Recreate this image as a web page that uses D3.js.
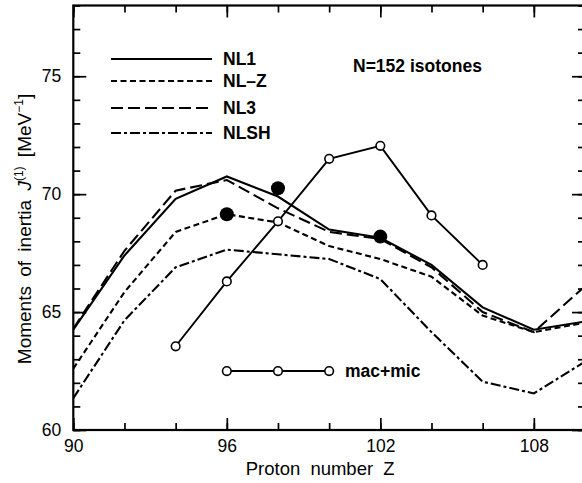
<!DOCTYPE html>
<html><head><meta charset="utf-8">
<script src="https://cdn.jsdelivr.net/npm/d3@7"></script>
<style>body{margin:0;background:#fff} svg{display:block}</style>
</head><body>
<script>
// ---- data ----
const protonZ = [90, 92, 94, 96, 98, 100, 102, 104, 106, 108, 110];
const nl1  = [64.25, 67.4, 69.8, 70.75, 69.9, 68.5, 68.15, 67.0, 65.2, 64.25, 64.6];
const nlz  = [62.6, 65.85, 68.4, 69.15, 68.8, 67.8, 67.25, 66.5, 64.85, 64.15, 64.55];
const nl3  = [64.3, 67.6, 70.15, 70.6, 69.4, 68.4, 68.1, 66.9, 65.0, 64.15, 66.1];
const nlsh = [61.35, 64.65, 66.9, 67.65, 67.45, 67.25, 66.4, 64.15, 62.05, 61.55, 62.9];
const macMicZ = [94, 96, 98, 100, 102, 104, 106];
const macMic  = [63.55, 66.3, 68.85, 71.5, 72.05, 69.1, 67.0];
const expZ    = [96, 98, 102];
const expVals = [69.15, 70.25, 68.2];
const seriesNames = ["NL1", "NL\u2013Z", "NL3", "NLSH"];
const xTickLabels = [90, 96, 102, 108];
const xMinorTicks = [90, 92, 94, 96, 98, 100, 102, 104, 106, 108, 110];
const yTickLabels = [60, 65, 70, 75];
const yMinorTicks = d3.range(60, 79, 1);
const macMicLegendZ = [96, 98, 100];
const macMicLegendVal = 62.5;

// ---- layout ----
const W = 582, H = 483;
const FONT = "'Liberation Sans', Arial, Helvetica, sans-serif";
const x = d3.scaleLinear().domain([90, 110]).range([73.3, 585]);
const y = d3.scaleLinear().domain([60, 78]).range([430, 5.5]);

const svg = d3.select("body").append("svg").attr("width", W).attr("height", H);

svg.append("defs").append("clipPath").attr("id", "plot")
  .append("rect").attr("x", x(90)).attr("y", y(78)).attr("width", x(110) - x(90)).attr("height", y(60) - y(78));

function styleAxis(g) {
  g.select(".domain").remove();
  g.selectAll("line").attr("stroke", "#000").attr("stroke-width", 1.7);
  g.selectAll("text").attr("font-family", FONT).attr("font-size", 17.5).attr("fill", "#000");
}

// bottom
svg.append("g").attr("transform", `translate(0,${y(60)})`)
  .call(d3.axisBottom(x).tickValues(xMinorTicks).tickSize(-7).tickSizeOuter(0).tickFormat("")).call(styleAxis);
svg.append("g").attr("transform", `translate(0,${y(60)})`)
  .call(d3.axisBottom(x).tickValues(xTickLabels).tickSize(-12).tickSizeOuter(0).tickPadding(10).tickFormat(d3.format("d"))).call(styleAxis);
// top
svg.append("g").attr("transform", `translate(0,${y(78)})`)
  .call(d3.axisTop(x).tickValues(xMinorTicks).tickSize(-7).tickSizeOuter(0).tickFormat("")).call(styleAxis);
svg.append("g").attr("transform", `translate(0,${y(78)})`)
  .call(d3.axisTop(x).tickValues(xTickLabels).tickSize(-12).tickSizeOuter(0).tickFormat("")).call(styleAxis);
// left
svg.append("g").attr("transform", `translate(${x(90)},0)`)
  .call(d3.axisLeft(y).tickValues(yMinorTicks).tickSize(-7).tickSizeOuter(0).tickFormat("")).call(styleAxis);
svg.append("g").attr("transform", `translate(${x(90)},0)`)
  .call(d3.axisLeft(y).tickValues(yTickLabels).tickSize(-13).tickSizeOuter(0).tickPadding(12).tickFormat(d3.format("d"))).call(styleAxis);
// right
svg.append("g").attr("transform", `translate(${x(110)},0)`)
  .call(d3.axisRight(y).tickValues(yMinorTicks).tickSize(-7).tickSizeOuter(0).tickFormat("")).call(styleAxis);
svg.append("g").attr("transform", `translate(${x(110)},0)`)
  .call(d3.axisRight(y).tickValues(yTickLabels).tickSize(-13).tickSizeOuter(0).tickFormat("")).call(styleAxis);

// frame
svg.append("rect").attr("x", x(90)).attr("y", y(78)).attr("width", x(110) - x(90)).attr("height", y(60) - y(78))
  .attr("fill", "none").attr("stroke", "#000").attr("stroke-width", 2.2);

// ---- series ----
const dashes = ["none", "6,3.5", "12,5", "10,3,3,3"];
const seriesVals = [nl1, nlz, nl3, nlsh];
const line = d3.line().x(d => x(d[0])).y(d => y(d[1]));
const plot = svg.append("g").attr("clip-path", "url(#plot)");
seriesVals.forEach((vals, i) => {
  plot.append("path").datum(protonZ.map((z, k) => [z, vals[k]]))
    .attr("d", line).attr("fill", "none").attr("stroke", "#000")
    .attr("stroke-width", 2.1).attr("stroke-dasharray", dashes[i]);
});

// mac+mic
plot.append("path").datum(macMicZ.map((z, k) => [z, macMic[k]]))
  .attr("d", line).attr("fill", "none").attr("stroke", "#000").attr("stroke-width", 1.9);
plot.selectAll("circle.mm").data(macMicZ.map((z, k) => [z, macMic[k]])).join("circle")
  .attr("class", "mm").attr("cx", d => x(d[0])).attr("cy", d => y(d[1])).attr("r", 4.3)
  .attr("fill", "#fff").attr("stroke", "#000").attr("stroke-width", 1.6);

// experiment
plot.selectAll("circle.exp").data(expZ.map((z, k) => [z, expVals[k]])).join("circle")
  .attr("class", "exp").attr("cx", d => x(d[0])).attr("cy", d => y(d[1])).attr("r", 7).attr("fill", "#000");

// ---- legend ----
const legY = [59, 81, 108, 133];
seriesNames.forEach((name, i) => {
  svg.append("line").attr("x1", 111).attr("x2", 212).attr("y1", legY[i]).attr("y2", legY[i])
    .attr("stroke", "#000").attr("stroke-width", 2.1).attr("stroke-dasharray", dashes[i]);
  svg.append("text").attr("x", 223).attr("y", legY[i] + 6.3).text(name)
    .attr("font-family", FONT).attr("font-size", 17.5).attr("font-weight", "bold");
});
svg.append("text").attr("x", 353).attr("y", 72).text("N=152 isotones")
  .attr("font-family", FONT).attr("font-size", 17.5).attr("font-weight", "bold");

const legMM = macMicLegendZ.map(z => [z, macMicLegendVal]);
svg.append("path").datum(legMM).attr("d", line).attr("fill", "none").attr("stroke", "#000").attr("stroke-width", 1.9);
svg.selectAll("circle.legmm").data(legMM).join("circle").attr("class", "legmm")
  .attr("cx", d => x(d[0])).attr("cy", d => y(d[1])).attr("r", 4.3)
  .attr("fill", "#fff").attr("stroke", "#000").attr("stroke-width", 1.6);
svg.append("text").attr("x", 345).attr("y", 377).text("mac+mic")
  .attr("font-family", FONT).attr("font-size", 17.5).attr("font-weight", "bold");

// ---- axis titles ----
svg.append("text").attr("x", (x(90) + x(110)) / 2 - 9).attr("y", 475).attr("text-anchor", "middle")
  .attr("font-family", FONT).attr("font-size", 18.5).attr("word-spacing", 5)
  .text("Proton number Z");

const yt = svg.append("text").attr("transform", `translate(31,229) rotate(-90)`).attr("text-anchor", "middle")
  .attr("font-family", FONT).attr("font-size", 19).attr("word-spacing", 4);
yt.append("tspan").text("Moments of inertia ");
yt.append("tspan").attr("font-style", "italic").text("J");
yt.append("tspan").attr("font-size", 12).attr("dy", -8).text("(1)");
yt.append("tspan").attr("dy", 8).text(" [MeV");
yt.append("tspan").attr("font-size", 12).attr("dy", -8).text("\u22121");
yt.append("tspan").attr("dy", 8).text("]");
</script>
</body></html>
